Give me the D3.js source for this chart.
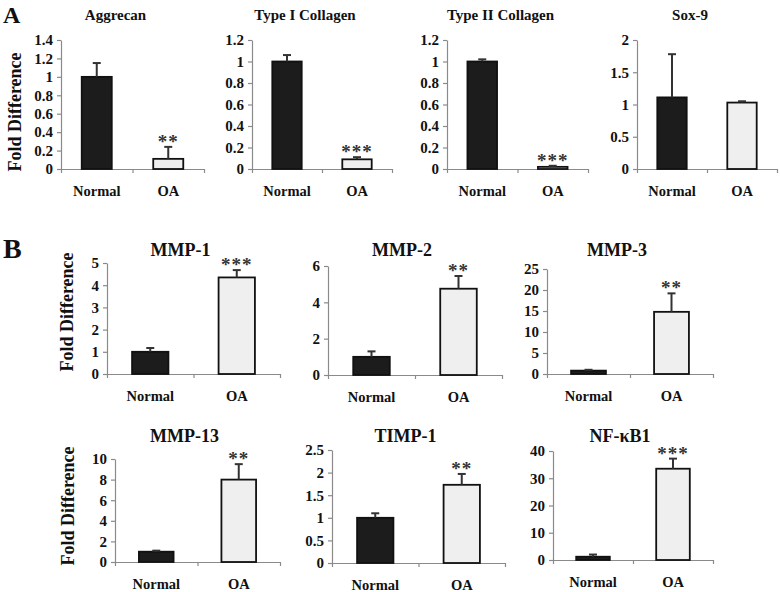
<!DOCTYPE html>
<html><head><meta charset="utf-8">
<script src="https://cdn.jsdelivr.net/npm/d3@7"></script>
<style>
html,body{margin:0;padding:0;background:#fff;}
text{font-family:"Liberation Serif","Times New Roman",serif;}
</style></head>
<body><svg id="c" width="780" height="592"></svg>
<script>
// ---- data ----
const genes = ["Aggrecan","Type I Collagen","Type II Collagen","Sox-9","MMP-1","MMP-2","MMP-3","MMP-13","TIMP-1","NF-\u03baB1"];
const groups = ["Normal","OA"];
const normalMean = [1.0, 1.0, 1.0, 1.11, 1.0, 1.0, 0.8, 1.0, 1.0, 1.2];
const normalErr  = [0.15, 0.06, 0.02, 0.67, 0.17, 0.3, 0.2, 0.1, 0.1, 0.8];
const oaMean     = [0.11, 0.09, 0.02, 1.03, 4.35, 4.75, 14.8, 8.0, 1.73, 33.5];
const oaErr      = [0.13, 0.02, 0.01, 0.02, 0.33, 0.7, 4.4, 1.5, 0.24, 3.7];
const stars      = ["**","***","***","","***","**","**","**","**","***"];
const yTicks = [
  [0,0.2,0.4,0.6,0.8,1,1.2,1.4],
  [0,0.2,0.4,0.6,0.8,1,1.2],
  [0,0.2,0.4,0.6,0.8,1,1.2],
  [0,0.5,1,1.5,2],
  [0,1,2,3,4,5],
  [0,2,4,6],
  [0,5,10,15,20,25],
  [0,2,4,6,8,10],
  [0,0.5,1,1.5,2,2.5],
  [0,10,20,30,40]
];
const yLabel = "Fold Difference";
const panelLabels = ["A","B"];

// ---- layout (pixel placement of each small chart) ----
// [axisLeft, axisRight, yTopOfMaxTick, yZero, titleSize]
const layout = [
  [61,204,40,169,15],[252,392,40,169,15],[447,588,40,169,15],[637,777,40,169,15],
  [107,280,263,374,18],[328,502,266,375,18],[547,713,269,374,18],
  [115,280,459,562,18],[332,505,450,563,18],[553,713,451,560,18]
];

const svg = d3.select("#c");
const axisCol = "#8a8a8a";

genes.forEach((g,i)=>{
  const [x0,x1,yt,yb,ts] = layout[i];
  const ticks = yTicks[i];
  const y = d3.scaleLinear().domain([0, d3.max(ticks)]).range([yb, yt]);
  const xb = d3.scaleBand().domain(groups).range([x0,x1]);
  const xl = d3.scaleLinear().domain([0,2]).range([x0,x1]);
  const gg = svg.append("g");

  // y axis
  const ya = gg.append("g").attr("transform",`translate(${x0},0)`)
    .call(d3.axisLeft(y).tickValues(ticks).tickSize(4).tickSizeOuter(0).tickPadding(4).tickFormat(d=>String(d)));
  ya.select(".domain").attr("stroke",axisCol).attr("stroke-width",1.2);
  ya.selectAll(".tick line").attr("stroke",axisCol).attr("stroke-width",1.2);
  ya.selectAll(".tick text").attr("fill","#111").style("font-size","15px").style("font-weight","bold")
    .style("font-family",'"Liberation Serif","Times New Roman",serif');

  // x axis (boundary ticks)
  const xa = gg.append("g").attr("transform",`translate(0,${yb})`)
    .call(d3.axisBottom(xl).tickValues([0,1,2]).tickSize(4).tickSizeOuter(0).tickFormat(""));
  xa.select(".domain").attr("stroke",axisCol).attr("stroke-width",1.2);
  xa.selectAll(".tick line").attr("stroke",axisCol).attr("stroke-width",1.2);

  const means=[normalMean[i],oaMean[i]], errs=[normalErr[i],oaErr[i]];
  const bw = xb.bandwidth()*0.42;
  // bars
  gg.selectAll("rect.bar").data(groups).enter().append("rect")
    .attr("x",d=>xb(d)+xb.bandwidth()/2-bw/2)
    .attr("y",(d,k)=>y(means[k]))
    .attr("width",bw)
    .attr("height",(d,k)=>yb-y(means[k]))
    .attr("fill",(d,k)=>k===0?"#1c1c1c":"#efefef")
    .attr("stroke","#111").attr("stroke-width",1.8);
  // error bars
  groups.forEach((d,k)=>{
    const cx = xb(d)+xb.bandwidth()/2;
    gg.append("line").attr("x1",cx).attr("x2",cx).attr("y1",y(means[k])).attr("y2",y(means[k]+errs[k]))
      .attr("stroke","#333").attr("stroke-width",2);
    gg.append("line").attr("x1",cx-4).attr("x2",cx+4).attr("y1",y(means[k]+errs[k])).attr("y2",y(means[k]+errs[k]))
      .attr("stroke","#333").attr("stroke-width",2);
  });
  // stars
  if(stars[i]){
    const cx = xb("OA")+xb.bandwidth()/2;
    gg.append("text").attr("x",cx).attr("y",y(oaMean[i]+oaErr[i])+1)
      .attr("text-anchor","middle").style("font-size","19px").style("font-weight","bold").attr("fill","#333")
      .style("letter-spacing","1px").text(stars[i]);
  }
  // x labels
  gg.selectAll("text.xl").data(groups).enter().append("text")
    .attr("x",d=>xb(d)+xb.bandwidth()/2).attr("y",yb+27)
    .attr("text-anchor","middle").style("font-size","14.5px").style("font-weight","bold").attr("fill","#111").text(d=>d);
  // title
  const titleY = i<4 ? 20 : (i<7 ? 256 : 442);
  gg.append("text").attr("x",(x0+x1)/2-(i<4?17:13)).attr("y",titleY)
    .attr("text-anchor","middle").style("font-size",ts+"px").style("font-weight","bold").attr("fill","#111").text(g);
});

// y-axis labels
[[21,112],[73,312],[74,506]].forEach(([x,yc])=>{
  svg.append("text").attr("transform",`translate(${x},${yc}) rotate(-90)`)
    .attr("text-anchor","middle").style("font-size","18px").style("font-weight","bold").attr("fill","#111").text(yLabel);
});
// panel labels
svg.append("text").attr("x",3).attr("y",23).style("font-size","24px").style("font-weight","bold").attr("fill","#111").text(panelLabels[0]);
svg.append("text").attr("x",3).attr("y",258).style("font-size","28px").style("font-weight","bold").attr("fill","#111").text(panelLabels[1]);
</script></body></html>
